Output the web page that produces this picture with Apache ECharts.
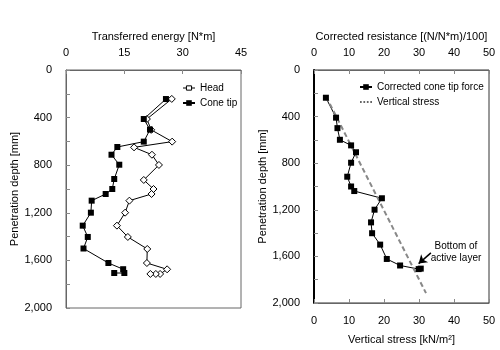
<!DOCTYPE html>
<html>
<head>
<meta charset="utf-8">
<script src="https://cdn.jsdelivr.net/npm/echarts@6/dist/echarts.min.js"></script>
<style>
  html, body { margin: 0; padding: 0; background: #fff; }
  #chart { width: 500px; height: 350px; }
</style>
</head>
<body>
<div id="chart"></div>
<script>
// left panel: transferred energy vs depth
var headDepth = [243, 412, 503, 602, 650, 712, 798, 924, 1000, 1042, 1098, 1199, 1308, 1403, 1504, 1622, 1675, 1714, 1714, 1714];
var headEnergy = [27.2, 20.8, 21.9, 27.3, 17.5, 22.1, 23.9, 20.0, 22.5, 22.0, 16.3, 15.2, 13.1, 15.9, 20.9, 20.8, 26.0, 24.2, 23.1, 21.7];
var tipDepth = [244, 412, 501, 602, 647, 712, 796, 916, 1000, 1042, 1098, 1199, 1308, 1403, 1500, 1622, 1674, 1706, 1706];
var tipEnergy = [25.7, 20.0, 21.6, 20.0, 13.2, 11.7, 13.7, 12.4, 11.9, 10.2, 6.6, 6.4, 4.3, 5.6, 4.5, 10.9, 14.7, 15.0, 12.4];

// right panel: corrected resistance and vertical stress
var resDepth = [238, 409, 499, 599, 647, 706, 796, 916, 1000, 1039, 1101, 1199, 1308, 1401, 1499, 1622, 1678, 1709, 1705];
var resValue = [3.4, 6.3, 6.7, 7.4, 10.6, 12.0, 10.6, 9.5, 10.6, 11.5, 19.4, 17.3, 16.3, 16.6, 18.9, 20.8, 24.6, 29.9, 30.5];
var stressDepth = [230, 1915];
var stressValue = [3.5, 32];

var energyTicks = { min: 0, max: 45, interval: 15 };
var resTicks = { min: 0, max: 50, interval: 10 };
var depthTicks = { min: 0, max: 2000, interval: 400 };

function pairs(xs, ys) {
    return xs.map(function(x, i) { return [x, ys[i]]; });
}

function commas(v) {
    return String(v).replace(/\B(?=(\d{3})+(?!\d))/g, ',');
}

var font = 'Liberation Sans, Arial, sans-serif';
var txt = { color: '#000', fontSize: 11, fontFamily: font };
var legendTxt = { color: '#000', fontSize: 10, fontFamily: font };

function xAxis(grid, pos, ticks, name) {
    return {
        type: 'value', gridIndex: grid, position: pos,
        min: ticks.min, max: ticks.max, interval: ticks.interval,
        name: name, nameLocation: 'middle', nameGap: pos == 'top' ? 25 : 31, nameTextStyle: txt,
        axisLine: { show: true, onZero: false, lineStyle: { color: '#666', width: 1 } },
        axisTick: { show: true, inside: true, length: 4, lineStyle: { color: '#888' } },
        axisLabel: Object.assign({ margin: 12 }, txt),
        splitLine: { show: false }
    };
}

function yAxis(grid, gap, lineColor, lineWidth) {
    return {
        type: 'value', gridIndex: grid, inverse: true,
        min: depthTicks.min, max: depthTicks.max, interval: depthTicks.interval,
        name: 'Penetration depth [mm]', nameLocation: 'middle', nameGap: gap, nameTextStyle: txt,
        axisLine: { show: true, onZero: false, lineStyle: { color: lineColor, width: lineWidth } },
        axisTick: { show: true, inside: true, length: 4, lineStyle: { color: '#888' } },
        minorTick: { show: true, splitNumber: 2, length: 4, lineStyle: { color: '#888' } },
        axisLabel: Object.assign({ margin: 14, formatter: commas }, txt),
        splitLine: { show: false }
    };
}

var myChart = echarts.init(document.getElementById('chart'));

var option = {
    animation: false,
    backgroundColor: '#fff',
    grid: [
        { left: 66, top: 70, width: 175, height: 238, show: true, borderColor: '#666', borderWidth: 1 },
        { left: 314, top: 70, width: 175, height: 238, show: true, borderColor: '#333', borderWidth: 1 }
    ],
    xAxis: [
        xAxis(0, 'top', energyTicks, 'Transferred energy [N*m]'),
        xAxis(1, 'top', resTicks, 'Corrected resistance [(N/N*m)/100]'),
        xAxis(1, 'bottom', resTicks, 'Vertical stress [kN/m²]')
    ],
    yAxis: [
        yAxis(0, 45, '#666', 1),
        yAxis(1, 43, '#000', 2)
    ],
    legend: [
        {
            data: [
                {
                    name: 'Head',
                    icon: 'path://M0,3.5h4 M4,1h6v5h-6z M10,3.5h4',
                    itemStyle: { color: '#fff', borderColor: '#000', borderWidth: 1 }
                },
                'Cone tip'
            ],
            orient: 'vertical', left: 177, top: 78,
            itemWidth: 12, itemHeight: 7, itemGap: 5,
            textStyle: legendTxt
        },
        {
            data: [
                'Corrected cone tip force',
                { name: 'Vertical stress', icon: 'path://M0,0h2v2h-2z M4,0h2v2h-2z M8,0h2v2h-2z M12,0h2v2h-2z', itemStyle: { color: '#333' } }
            ],
            orient: 'vertical', left: 354, top: 77,
            itemWidth: 12, itemHeight: 7, itemGap: 5,
            textStyle: legendTxt
        }
    ],
    series: [
        {
            name: 'Head', type: 'line', xAxisIndex: 0, yAxisIndex: 0,
            data: pairs(headEnergy, headDepth),
            symbol: 'diamond', symbolSize: 7,
            itemStyle: { color: '#fff', borderColor: '#000', borderWidth: 1 },
            lineStyle: { color: '#000', width: 1 }
        },
        {
            name: 'Cone tip', type: 'line', xAxisIndex: 0, yAxisIndex: 0,
            data: pairs(tipEnergy, tipDepth),
            symbol: 'rect', symbolSize: 6,
            itemStyle: { color: '#000' },
            lineStyle: { color: '#000', width: 1 }
        },
        {
            name: 'Corrected cone tip force', type: 'line', xAxisIndex: 1, yAxisIndex: 1,
            data: pairs(resValue, resDepth),
            symbol: 'rect', symbolSize: 6,
            itemStyle: { color: '#000' },
            lineStyle: { color: '#000', width: 1 },
            markLine: {
                silent: true,
                symbol: ['none', 'arrow'], symbolSize: 8,
                label: { show: false },
                lineStyle: { color: '#000', width: 1.5, type: 'solid' },
                data: [[{ coord: [33.4, 1570] }, { coord: [29.9, 1662] }]]
            }
        },
        {
            name: 'Vertical stress', type: 'line', xAxisIndex: 2, yAxisIndex: 1,
            data: pairs(stressValue, stressDepth),
            symbol: 'none',
            itemStyle: { color: '#888' },
            lineStyle: { color: '#888', width: 2, type: [5, 3] }
        }
    ],
    graphic: [
        {
            type: 'text', x: 456, y: 240,
            style: {
                text: 'Bottom of\nactive layer', fill: '#000',
                font: '10px ' + font, align: 'center', lineHeight: 12
            }
        }
    ]
};

myChart.setOption(option);
</script>
</body>
</html>
